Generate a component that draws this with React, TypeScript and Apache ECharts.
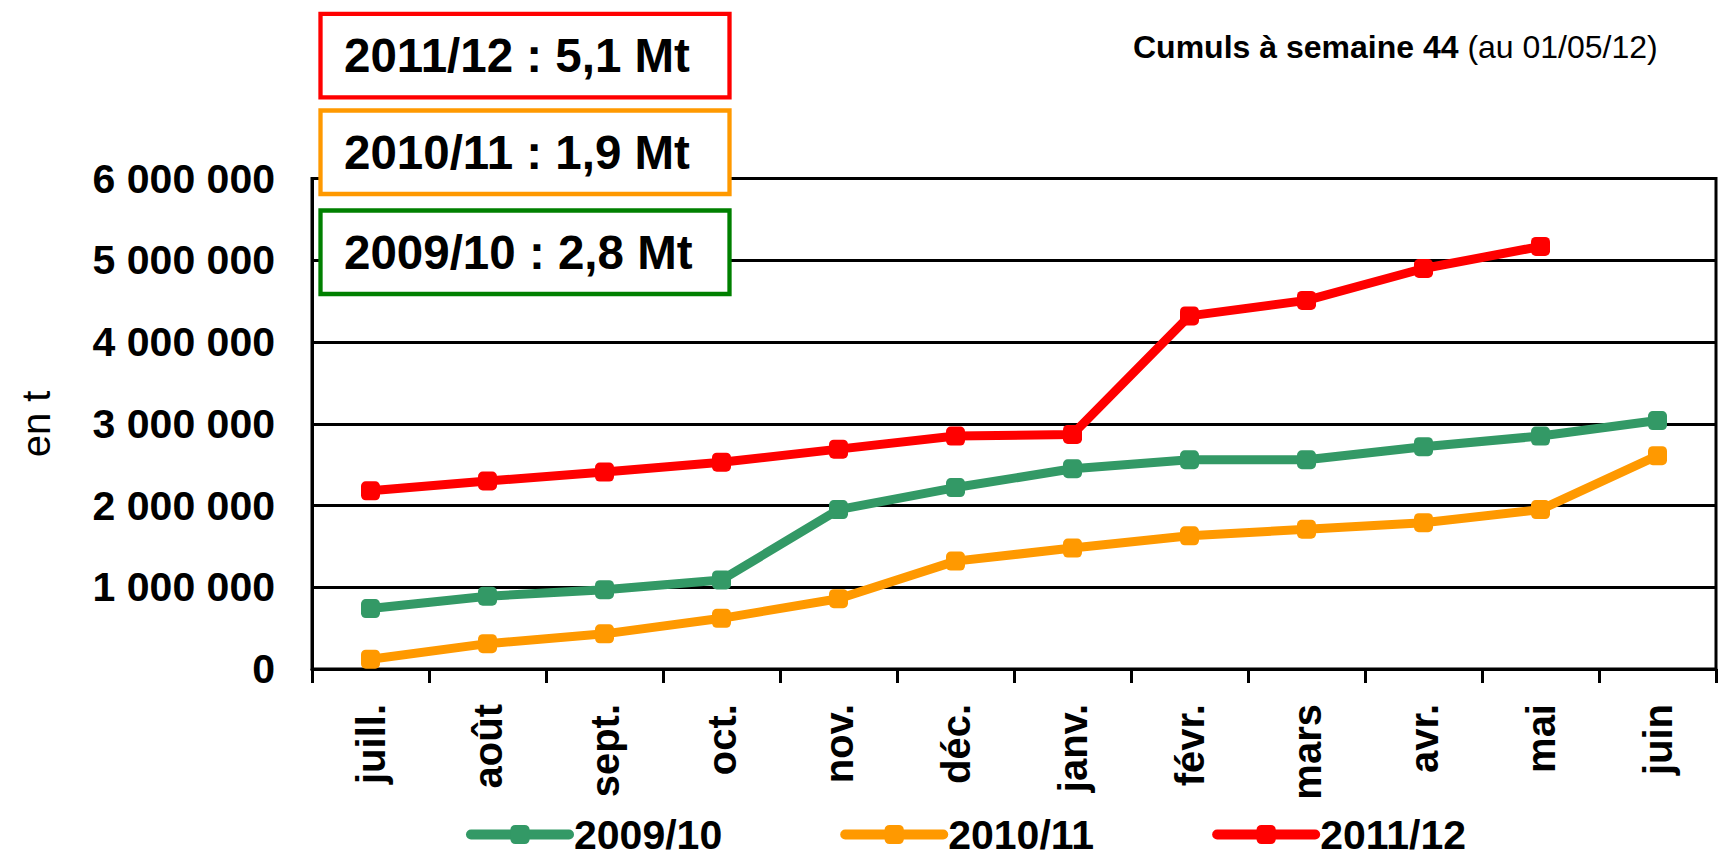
import React, { useEffect, useRef } from "react";
import * as echarts from "echarts";

const months = ["juill.", "août", "sept.", "oct.", "nov.", "déc.", "janv.", "févr.", "mars", "avr.", "mai", "juin"];
const s2009: (number | null)[] = [740000, 890000, 970000, 1090000, 1950000, 2220000, 2450000, 2560000, 2560000, 2720000, 2850000, 3040000];
const s2010: (number | null)[] = [120000, 310000, 430000, 620000, 860000, 1320000, 1480000, 1630000, 1710000, 1790000, 1950000, 2610000];
const s2011: (number | null)[] = [2180000, 2300000, 2410000, 2530000, 2690000, 2850000, 2870000, 4320000, 4510000, 4900000, 5170000, null];
const seriesNames = ["2009/10", "2010/11", "2011/12"];
const seriesColors = ["#339966", "#FF9900", "#FF0000"];
const boxTexts = ["2011/12 : 5,1 Mt", "2010/11 : 1,9 Mt", "2009/10 : 2,8 Mt"];
const boxColors = ["#FF0000", "#FF9900", "#008000"];
const yTicks = { min: 0, max: 6000000, interval: 1000000 };

const FONT = "'Liberation Sans', Arial, Helvetica, sans-serif";

function fmt(v: number): string {
  return String(Math.round(v)).replace(/\B(?=(\d{3})+(?!\d))/g, " ");
}

export default function App() {
  const ref = useRef<HTMLDivElement>(null);
  useEffect(() => {
    if (!ref.current) return;
    const chart = echarts.init(ref.current, null, { renderer: "svg" });
    const data = [s2009, s2010, s2011];
    const boxY = [13.9, 110.5, 210.5];
    const graphics: any[] = [];
    boxTexts.forEach((t, i) => {
      graphics.push({
        type: "rect",
        z: 100,
        shape: { x: 320.5, y: boxY[i], width: 409, height: 83.5 },
        style: { fill: "#fff", stroke: boxColors[i], lineWidth: 4.3 },
      });
      graphics.push({
        type: "text",
        z: 101,
        x: 344,
        y: boxY[i] + 42,
        style: {
          text: t,
          fill: "#000",
          font: `bold 47.5px ${FONT}`,
          textAlign: "left",
          textVerticalAlign: "middle",
        },
      });
    });
    graphics.push({
      type: "text",
      z: 101,
      x: 1133,
      y: 46.5,
      style: {
        text: "{b|Cumuls à semaine 44}{n| (au 01/05/12)}",
        textVerticalAlign: "middle",
        rich: {
          b: { fontFamily: FONT, fontWeight: "bold", fontSize: 32, fill: "#000" },
          n: { fontFamily: FONT, fontWeight: "normal", fontSize: 32, fill: "#000" },
        },
      },
    });
    graphics.push({
      type: "text",
      z: 101,
      x: 36,
      y: 424,
      rotation: Math.PI / 2,
      style: {
        text: "en t",
        fill: "#000",
        font: `normal 40px ${FONT}`,
        textAlign: "center",
        textVerticalAlign: "middle",
      },
    });

    chart.setOption({
      animation: false,
      backgroundColor: "#fff",
      textStyle: { fontFamily: FONT },
      grid: {
        left: 312,
        right: 4,
        top: 178.6,
        bottom: 190,
        show: true,
        borderColor: "#000",
        borderWidth: 3,
        outerBoundsMode: "none",
        containLabel: false,
      },
      legend: {
        data: seriesNames,
        left: 466,
        top: 814,
        padding: 0,
        itemWidth: 98,
        itemHeight: 24,
        itemGap: 118,
        textStyle: { fontFamily: FONT, fontWeight: "bold", fontSize: 41, lineHeight: 41, color: "#000" },
        lineStyle: { width: 10, cap: "round" },
      },
      xAxis: {
        type: "category",
        data: months,
        boundaryGap: true,
        axisLine: { lineStyle: { color: "#000", width: 3 } },
        axisTick: { show: true, length: 14, lineStyle: { color: "#000", width: 3 } },
        axisLabel: {
          rotate: 90,
          margin: 35,
          interval: 0,
          color: "#000",
          fontFamily: FONT,
          fontWeight: "bold",
          fontSize: 40,
        },
      },
      yAxis: {
        type: "value",
        min: yTicks.min,
        max: yTicks.max,
        interval: yTicks.interval,
        axisLine: { show: true, lineStyle: { color: "#000", width: 3 } },
        axisTick: { show: false },
        splitLine: { show: true, lineStyle: { color: "#000", width: 3 } },
        axisLabel: {
          margin: 37,
          color: "#000",
          fontFamily: FONT,
          fontWeight: "bold",
          fontSize: 41,
          formatter: (v: number) => fmt(v),
        },
      },
      series: seriesNames.map((name, i) => ({
        name,
        type: "line",
        data: data[i],
        symbol: "roundRect",
        symbolSize: 19,
        showSymbol: true,
        connectNulls: false,
        lineStyle: { color: seriesColors[i], width: 9 },
        itemStyle: { color: seriesColors[i] },
        z: 3 + i,
      })),
      graphic: graphics,
    });
    return () => chart.dispose();
  }, []);
  return (
    <div
      ref={ref}
      style={{ position: "fixed", left: 0, top: 0, width: 1720, height: 859, background: "#fff" }}
    />
  );
}
